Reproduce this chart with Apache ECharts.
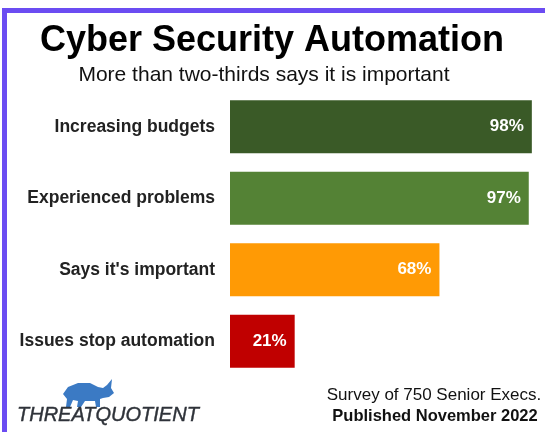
<!DOCTYPE html>
<html>
<head>
<meta charset="utf-8">
<script src="https://cdn.jsdelivr.net/npm/echarts@6/dist/echarts.min.js"></script>
<style>
html,body{margin:0;padding:0;background:#fff;}
#c{width:545px;height:432px;}
</style>
</head>
<body>
<div id="c"></div>
<script>
var categories = ['Increasing budgets', 'Experienced problems', "Says it's important", 'Issues stop automation'];
var values = [98, 97, 68, 21];
var barColors = ['#3a5a27', '#548235', '#ff9a05', '#c00000'];

var chart = echarts.init(document.getElementById('c'), null, {renderer: 'canvas'});
var FONT = 'Liberation Sans, Arial, sans-serif';

var option = {
  backgroundColor: '#ffffff',
  animation: false,
  title: [
    {text: 'Cyber Security Automation', left: 267, top: 18, textAlign: 'center',
     textStyle: {fontFamily: FONT, fontSize: 36, fontWeight: 'bold', color: '#000'}},
    {text: 'More than two-thirds says it is important', left: 259, top: 60, textAlign: 'center',
     textStyle: {fontFamily: FONT, fontSize: 21, fontWeight: 'normal', color: '#111'}}
  ],
  grid: {left: 230, right: 7, top: 91, bottom: 55, containLabel: false},
  xAxis: {type: 'value', min: 0, max: 100, show: false},
  yAxis: {
    type: 'category', data: categories, inverse: true,
    axisLine: {show: false}, axisTick: {show: false}, splitLine: {show: false},
    axisLabel: {margin: 15, fontFamily: FONT, fontSize: 17.5, fontWeight: 'bold', color: '#222'}
  },
  series: [{
    type: 'bar',
    barWidth: 53,
    data: values.map(function (v, i) { return {value: v, itemStyle: {color: barColors[i]}}; }),
    label: {
      show: true, position: 'insideRight', distance: 8,
      formatter: '{c}%',
      fontFamily: FONT, fontSize: 17, fontWeight: 'bold', color: '#fff'
    }
  }],
  graphic: [
    {type: 'rect', shape: {x: 2, y: 8, width: 545, height: 5}, style: {fill: '#6b4cf2'}},
    {type: 'rect', shape: {x: 2, y: 8, width: 5, height: 430}, style: {fill: '#6b4cf2'}},
    {type: 'polygon', shape: {points: [[63,394],[68,387],[78,383],[90,383],[98,387],[103,388],[107,385],[112,379],[111,388],[114,393],[109,397],[103,398],[100,399],[100,407],[96,407],[95,401],[85,401],[81,407],[77,407],[78,401],[73,400],[70,407],[66,407],[67,399]]},
     style: {fill: '#3b7ac4'}},
    {type: 'text', x: 17, y: 405, style: {text: 'THREATQUOTIENT', fontFamily: FONT, fontStyle: 'italic', fontSize: 20, fill: '#2e3239', stroke: '#2e3239', lineWidth: 0.4}},
    {type: 'text', x: 434, y: 387, style: {text: 'Survey of 750 Senior Execs.', textAlign: 'center', fontFamily: FONT, fontSize: 17, fill: '#111'}},
    {type: 'text', x: 435, y: 408, style: {text: 'Published November 2022', textAlign: 'center', fontFamily: FONT, fontSize: 16.5, fontWeight: 'bold', fill: '#111'}}
  ]
};
chart.setOption(option);
</script>
</body>
</html>
